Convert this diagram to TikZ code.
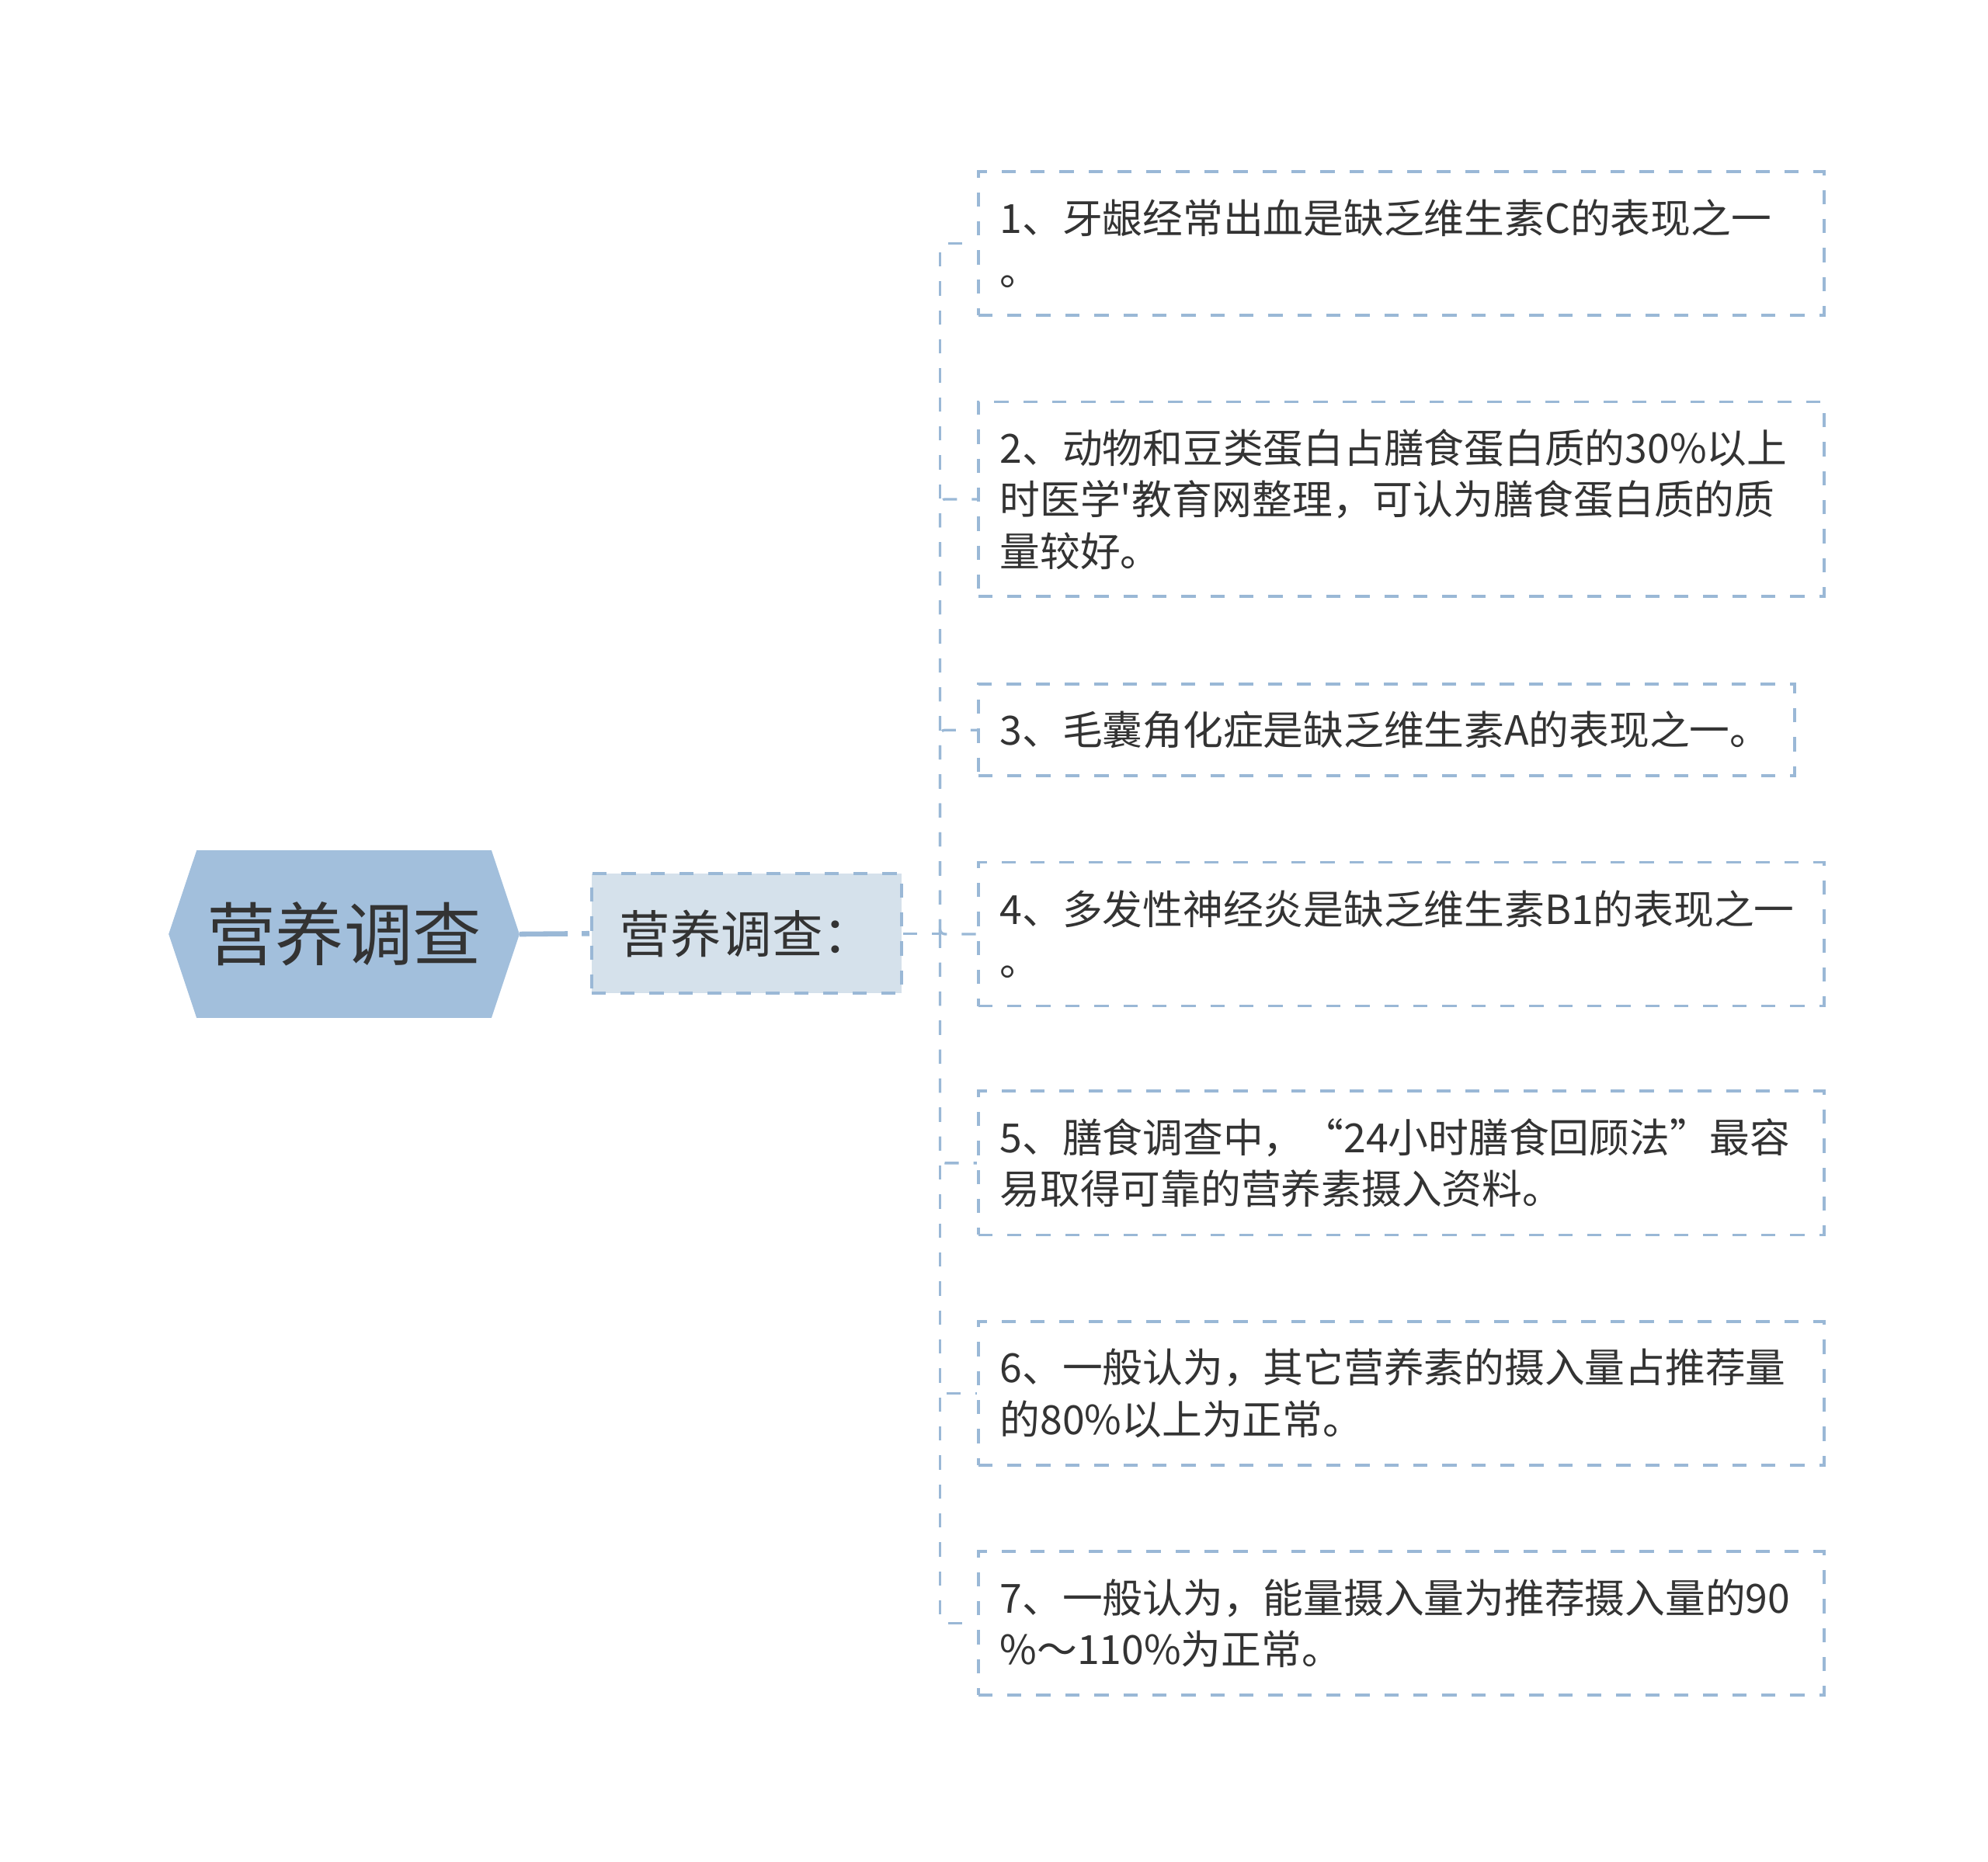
\documentclass[tikz,border=0pt]{standalone}
\usepackage{fontspec}
\newfontfamily\cjk{Noto Sans CJK SC}
\definecolor{hexfill}{HTML}{A2BFDC}
\definecolor{subfill}{HTML}{D5E1EB}
\definecolor{edgec}{HTML}{9AB8D6}
\definecolor{txt}{HTML}{333333}
\tikzset{
  itembox/.style={draw=edgec, line width=1.15pt, dash pattern=on 5.6pt off 5.8pt, anchor=west,
    text width=315.5pt, inner xsep=8.5pt, inner ysep=0pt, align=left,
    font=\cjk\fontsize{15.8pt}{20.25pt}\selectfont, text=txt, minimum height=56.5pt},
  conn/.style={draw=edgec, line width=1pt, dash pattern=on 5.6pt off 5.8pt, rounded corners=2pt},
  subbox/.style={draw=edgec, fill=subfill, line width=1.15pt, dash pattern=on 5.6pt off 5.8pt,
    text width=100pt, inner xsep=11pt, inner ysep=0pt, minimum height=47pt, align=left,
    font=\cjk\fontsize{20pt}{24pt}\selectfont, text=txt},
  rootnode/.style={minimum width=137.5pt, minimum height=65.5pt, inner sep=0pt,
    font=\cjk\fontsize{27pt}{32pt}\selectfont, text=txt}
}
\begin{document}
\begin{tikzpicture}[x=0.5pt,y=-0.5pt]
\useasboundingbox (0,0) rectangle (1563,1464);
% root
\node[rootnode] (root) at (270.5,734.5) {\phantom{营养调查}};
\fill[hexfill] (root.west) -- ([xshift=11pt]root.north west) -- ([xshift=-11pt]root.north east)
  -- (root.east) -- ([xshift=-11pt]root.south east) -- ([xshift=11pt]root.south west) -- cycle;
\node[rootnode] at (root.center) {营养调查};
% sub
\node[subbox] (sub) at (587,734) {营养调查：};
\draw[edgec, line width=2pt, dash pattern=on 19pt off 5.5pt on 3pt off 1pt] (root.east) -- (sub.west);
% items
\node[itembox] (b1) at (768,191.5) {1、牙龈经常出血是缺乏维生素C的表现之一\\。};
\node[itembox, minimum height=76.5pt] (b2) at (768,392.5) {2、动物和豆类蛋白占膳食蛋白质的30\%以上\\时医学'教育网整理，可认为膳食蛋白质的质\\量较好。};
\node[itembox, minimum height=36pt, text width=304pt] (b3) at (768,574) {3、毛囊角化症是缺乏维生素A的表现之一。};
\node[itembox] (b4) at (768,734.5) {4、多发性神经炎是缺乏维生素B1的表现之一\\。};
\node[itembox] (b5) at (768,914.5) {5、膳食调查中，“24小时膳食回顾法”最容\\易取得可靠的营养素摄入资料。};
\node[itembox] (b6) at (768,1095.5) {6、一般认为，其它营养素的摄入量占推荐量\\的80\%以上为正常。};
\node[itembox] (b7) at (768,1276.5) {7、一般认为，能量摄入量为推荐摄入量的90\\\%～110\%为正常。};
% connectors
\coordinate (tr) at (739,734);
\draw[conn] (sub.east) -- (tr);
\foreach \b in {b1,b2,b3,b4,b5,b6,b7}{
  \draw[conn] (tr) |- (\b.west);
}
\end{tikzpicture}
\end{document}
